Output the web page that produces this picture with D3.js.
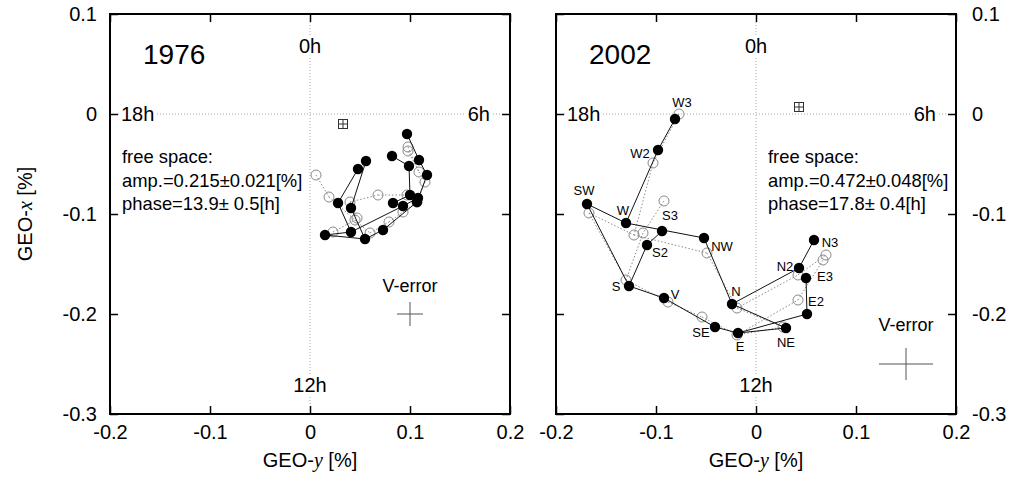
<!DOCTYPE html>
<html><head><meta charset="utf-8">
<script src="https://cdn.jsdelivr.net/npm/d3@7/dist/d3.min.js"></script>
<style>
body{margin:0;background:#fff}
svg{display:block}
text{font-family:"Liberation Sans",Arial,Helvetica,sans-serif;fill:#000}
</style>
</head><body>
<svg id="chart" width="1009" height="484"></svg>
<script>
// ---------------- data ----------------
const xTicks = [-0.2, -0.1, 0, 0.1, 0.2];
const xTickLabels = ["-0.2", "-0.1", "0", "0.1", "0.2"];
const yTicks = [0.1, 0, -0.1, -0.2, -0.3];
const yTickLabels = ["0.1", "0", "-0.1", "-0.2", "-0.3"];
const hourLabels = ["0h", "6h", "12h", "18h"];
const panelYears = ["1976", "2002"];

// 1976 observed (filled) points
const obsX1976 = [0.097, 0.056, 0.048, 0.082, 0.099, 0.109, 0.117, 0.028, 0.041, 0.083, 0.100, 0.093, 0.108, 0.107, 0.015, 0.041, 0.055, 0.073];
const obsY1976 = [-0.020, -0.047, -0.055, -0.042, -0.052, -0.046, -0.061, -0.089, -0.094, -0.089, -0.081, -0.092, -0.084, -0.088, -0.121, -0.118, -0.125, -0.116];
const obsLinks1976 = [[0,5],[5,6],[6,13],[3,4],[4,10],[10,9],[1,8],[2,7],[7,15],[14,15],[14,16],[15,11],[16,17],[17,13],[8,16],[11,12]];
// 1976 model (open) points
const modX1976 = [0.006, 0.019, 0.040, 0.068, 0.045, 0.023, 0.060, 0.079, 0.093, 0.097, 0.107, 0.115, 0.109, 0.098, 0.098, 0.047];
const modY1976 = [-0.061, -0.083, -0.088, -0.081, -0.106, -0.118, -0.119, -0.108, -0.098, -0.081, -0.088, -0.068, -0.058, -0.033, -0.037, -0.104];
const modLinks1976 = [[0,1],[1,4],[4,6],[6,7],[7,8],[8,10],[3,9],[9,10],[13,12],[12,11],[11,10],[5,4],[2,3],[14,12],[2,15]];

// 2002 stations
const stations2002 = ["W3","W2","SW","W","S3","S2","NW","S","V","N","SE","E","NE","N2","N3","E2","E3"];
const obsX2002 = [-0.081, -0.098, -0.169, -0.130, -0.094, -0.109, -0.052, -0.127, -0.092, -0.024, -0.041, -0.018, 0.030, 0.043, 0.058, 0.051, 0.050];
const obsY2002 = [-0.005, -0.036, -0.090, -0.109, -0.117, -0.131, -0.124, -0.172, -0.184, -0.190, -0.213, -0.219, -0.214, -0.154, -0.126, -0.200, -0.164];
const modX2002 = [-0.077, -0.103, -0.167, -0.122, -0.092, -0.113, -0.049, -0.130, -0.088, -0.019, -0.054, -0.019, 0.027, 0.042, 0.070, 0.042, 0.067];
const modY2002 = [0.000, -0.049, -0.099, -0.121, -0.087, -0.119, -0.139, -0.166, -0.188, -0.194, -0.203, -0.221, -0.213, -0.161, -0.141, -0.186, -0.146];
const links2002 = [["W3","W2"],["W2","W"],["SW","W"],["SW","S"],["W","NW"],["S3","S2"],["S2","S"],["NW","N"],["S","V"],["V","SE"],["SE","E"],["N","NE"],["N","N2"],["E","NE"],["E","E2"],["N2","N3"],["E2","E3"]];

// free-space fit text
const freeSpace1976 = ["free space:", "amp.=0.215\u00b10.021[%]", "phase=13.9\u00b1 0.5[h]"];
const freeSpace2002 = ["free space:", "amp.=0.472\u00b10.048[%]", "phase=17.8\u00b1 0.4[h]"];

// V-error crosses (centre and half widths, in %)
const verrX = [0.10, 0.15];
const verrY = [-0.20, -0.25];
const verrHalfX = [0.013, 0.027];
const verrHalfY = [0.012, 0.016];
// boxed-plus markers
const sqX = [0.033, 0.043];
const sqY = [-0.010, 0.007];

// ---------------- layout / style ----------------
const labelOffsets2002 = {
  W3:[7,-17], W2:[-18,3], SW:[-3,-14], W:[-3,-13], S3:[8,-16], S2:[13,7], NW:[18,8],
  S:[-13,0], V:[11,-4], N:[4,-13], SE:[-14,5], E:[2,13], NE:[0,14], N2:[-14,-2],
  N3:[16,2], E3:[19,-2], E2:[9,-13]
};
const panels = [
  {x0:110, x1:510, leftLabels:true, rightLabels:false, textX:122, vx:0},
  {x0:556, x1:956, leftLabels:false, rightLabels:true, textX:768, vx:1}
];
const yTop = 14, yBot = 414;

const svg = d3.select("#chart");

function drawPanel(p, idx){
  const x = d3.scaleLinear().domain([-0.2, 0.2]).range([p.x0, p.x1]);
  const y = d3.scaleLinear().domain([-0.3, 0.1]).range([yBot, yTop]);
  const g = svg.append("g");

  // dotted cross-hair at 0,0
  g.append("line").attr("x1", x(0)).attr("x2", x(0)).attr("y1", yTop+8).attr("y2", yBot-8)
    .attr("stroke", "#a8a8a8").attr("stroke-width", 1).attr("stroke-dasharray", "1,2");
  g.append("line").attr("x1", p.x0+8).attr("x2", p.x1-8).attr("y1", y(0)).attr("y2", y(0))
    .attr("stroke", "#a8a8a8").attr("stroke-width", 1).attr("stroke-dasharray", "1,2");

  // hour labels (with white halo to interrupt dotted lines)
  const hl = g.append("g").attr("font-size", 20)
    .style("paint-order", "stroke").attr("stroke", "#fff").attr("stroke-width", 6);
  hl.append("text").attr("x", x(0)).attr("y", yTop+39).attr("text-anchor", "middle").text(hourLabels[0]);
  hl.append("text").attr("x", p.x1-20).attr("y", y(0)).attr("dy", "0.35em").attr("text-anchor", "end").text(hourLabels[1]);
  hl.append("text").attr("x", x(0)).attr("y", yBot-22).attr("text-anchor", "middle").text(hourLabels[2]);
  hl.append("text").attr("x", p.x0+11).attr("y", y(0)).attr("dy", "0.35em").attr("text-anchor", "start").text(hourLabels[3]);

  // axes (ticks inward)
  const fmtX = d => xTickLabels[xTicks.indexOf(d)];
  const fmtY = d => yTickLabels[yTicks.indexOf(d)];
  const styleAxis = (sel) => {
    sel.select(".domain").remove();
    sel.selectAll(".tick line").attr("stroke", "#000").attr("stroke-width", 1.5);
    sel.attr("font-family", null).attr("font-size", 20);
  };
  g.append("g").attr("transform", `translate(0,${yBot})`)
    .call(d3.axisBottom(x).tickValues(xTicks).tickSizeInner(-8).tickSizeOuter(0).tickPadding(11).tickFormat(fmtX))
    .call(styleAxis);
  g.append("g").attr("transform", `translate(0,${yTop})`)
    .call(d3.axisTop(x).tickValues(xTicks).tickSizeInner(-8).tickSizeOuter(0).tickFormat(""))
    .call(styleAxis);
  g.append("g").attr("transform", `translate(${p.x0},0)`)
    .call(d3.axisLeft(y).tickValues(yTicks).tickSizeInner(-8).tickSizeOuter(0).tickPadding(13).tickFormat(p.leftLabels ? fmtY : ""))
    .call(styleAxis);
  g.append("g").attr("transform", `translate(${p.x1},0)`)
    .call(d3.axisRight(y).tickValues(yTicks).tickSizeInner(-8).tickSizeOuter(0).tickPadding(16).tickFormat(p.rightLabels ? fmtY : ""))
    .call(styleAxis);
  g.selectAll(".tick text").attr("fill", "#000");

  // frame
  g.append("rect").attr("x", p.x0).attr("y", yTop).attr("width", p.x1-p.x0).attr("height", yBot-yTop)
    .attr("fill", "none").attr("stroke", "#000").attr("stroke-width", 2);

  // year title
  g.append("text").attr("x", p.x0+33).attr("y", 64).attr("font-size", 28).text(panelYears[idx]);

  // free-space text
  const fs = idx === 0 ? freeSpace1976 : freeSpace2002;
  g.append("g").attr("font-size", 18.4).selectAll("text").data(fs).join("text")
    .attr("x", p.textX).attr("y", (d,i) => 163 + i*23.7).text(d => d);

  // V-error cross
  const vi = p.vx;
  g.append("text").attr("x", x(verrX[vi])).attr("y", idx === 0 ? 292 : 331)
    .attr("text-anchor", "middle").attr("font-size", 18).text("V-error");
  g.append("line").attr("x1", x(verrX[vi]-verrHalfX[vi])).attr("x2", x(verrX[vi]+verrHalfX[vi]))
    .attr("y1", y(verrY[vi])).attr("y2", y(verrY[vi])).attr("stroke", "#555").attr("stroke-width", 1);
  g.append("line").attr("x1", x(verrX[vi])).attr("x2", x(verrX[vi]))
    .attr("y1", y(verrY[vi]-verrHalfY[vi])).attr("y2", y(verrY[vi]+verrHalfY[vi])).attr("stroke", "#555").attr("stroke-width", 1);

  // boxed plus marker
  const sx = x(sqX[vi]), sy = y(sqY[vi]);
  g.append("rect").attr("x", sx-4.5).attr("y", sy-4.5).attr("width", 9).attr("height", 9)
    .attr("fill", "#fff").attr("stroke", "#333").attr("stroke-width", 1);
  g.append("line").attr("x1", sx-4.5).attr("x2", sx+4.5).attr("y1", sy).attr("y2", sy).attr("stroke", "#333").attr("stroke-width", 1);
  g.append("line").attr("x1", sx).attr("x2", sx).attr("y1", sy-4.5).attr("y2", sy+4.5).attr("stroke", "#333").attr("stroke-width", 1);

  return {g, x, y};
}

function drawNetwork(g, x, y, ox, oy, olinks, mx, my, mlinks){
  // model: dotted gray lines and open circles
  g.append("g").selectAll("line").data(mlinks).join("line")
    .attr("x1", d => x(mx[d[0]])).attr("y1", d => y(my[d[0]]))
    .attr("x2", d => x(mx[d[1]])).attr("y2", d => y(my[d[1]]))
    .attr("stroke", "#8a8a8a").attr("stroke-width", 1).attr("stroke-dasharray", "1.5,2");
  g.append("g").selectAll("circle").data(mx).join("circle")
    .attr("cx", d => x(d)).attr("cy", (d,i) => y(my[i])).attr("r", 5)
    .attr("fill", "none").attr("stroke", "#8a8a8a").attr("stroke-width", 1);
  // observed: black lines and filled dots
  g.append("g").selectAll("line").data(olinks).join("line")
    .attr("x1", d => x(ox[d[0]])).attr("y1", d => y(oy[d[0]]))
    .attr("x2", d => x(ox[d[1]])).attr("y2", d => y(oy[d[1]]))
    .attr("stroke", "#111").attr("stroke-width", 1);
  g.append("g").selectAll("circle").data(ox).join("circle")
    .attr("cx", d => x(d)).attr("cy", (d,i) => y(oy[i])).attr("r", 5.2)
    .attr("fill", "#000");
}

// panel 1976
const P0 = drawPanel(panels[0], 0);
drawNetwork(P0.g, P0.x, P0.y, obsX1976, obsY1976, obsLinks1976, modX1976, modY1976, modLinks1976);

// panel 2002
const P1 = drawPanel(panels[1], 1);
const idxOf = n => stations2002.indexOf(n);
const links2002Idx = links2002.map(l => [idxOf(l[0]), idxOf(l[1])]);
drawNetwork(P1.g, P1.x, P1.y, obsX2002, obsY2002, links2002Idx, modX2002, modY2002, links2002Idx);
P1.g.append("g").attr("font-size", 13).selectAll("text").data(stations2002).join("text")
  .attr("x", (d,i) => P1.x(obsX2002[i]) + labelOffsets2002[d][0])
  .attr("y", (d,i) => P1.y(obsY2002[i]) + labelOffsets2002[d][1])
  .attr("dy", "0.35em").attr("text-anchor", "middle").text(d => d);

// axis titles
panels.forEach(p => {
  const t = svg.append("text").attr("x", (p.x0+p.x1)/2).attr("y", 467)
    .attr("text-anchor", "middle").attr("font-size", 20);
  t.append("tspan").text("GEO-");
  t.append("tspan").attr("font-family", "'Liberation Serif','Times New Roman',serif").attr("font-style", "italic").text("y");
  t.append("tspan").text(" [%]");
});
const ty = svg.append("text").attr("transform", "translate(32,214) rotate(-90)")
  .attr("text-anchor", "middle").attr("font-size", 20);
ty.append("tspan").text("GEO-");
ty.append("tspan").attr("font-family", "'Liberation Serif','Times New Roman',serif").attr("font-style", "italic").text("x");
ty.append("tspan").text(" [%]");
</script>
</body></html>
